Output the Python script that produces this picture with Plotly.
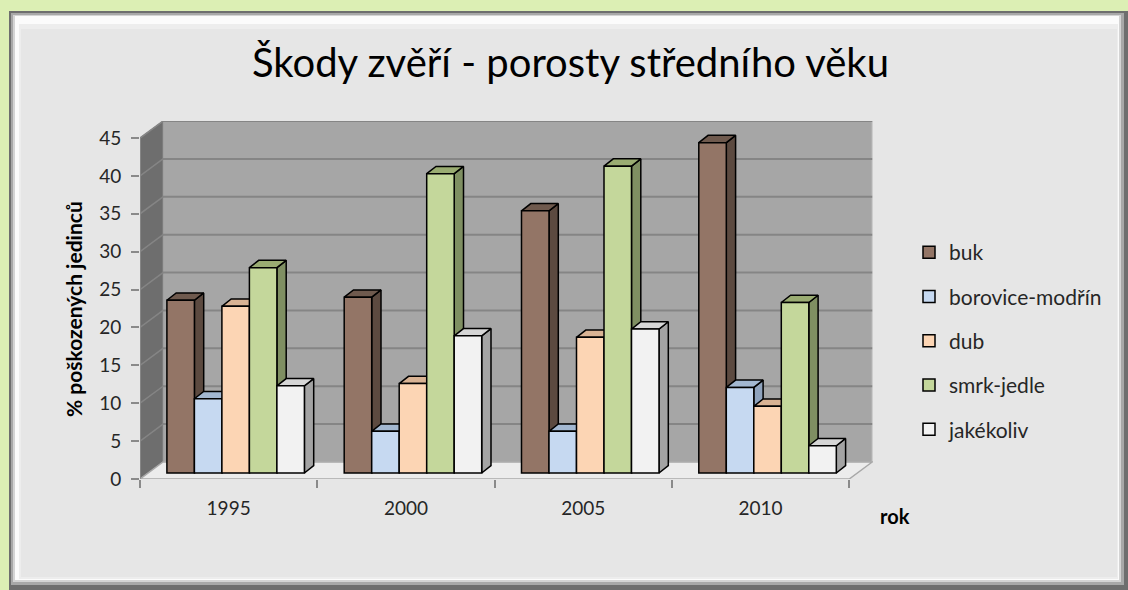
"""Škody zvěří - porosty středního věku: 3D-looking grouped bar chart."""

import plotly.graph_objects as go

years = ["1995", "2000", "2005", "2010"]
species = ["buk", "borovice-modřín", "dub", "smrk-jedle", "jakékoliv"]
buk = [22.8, 23.2, 34.6, 43.6]
borovice = [9.8, 5.5, 5.5, 11.3]
dub = [22.0, 11.8, 17.9, 8.8]
smrk = [27.1, 39.5, 40.5, 22.5]
jakekoliv = [11.5, 18.1, 19.0, 3.6]
series = [buk, borovice, dub, smrk, jakekoliv]
y_ticks = [0, 5, 10, 15, 20, 25, 30, 35, 40, 45]

# front / side / top colours per series
front = ["#937566", "#c6d9f1", "#fcd5b4", "#c4d79b", "#f2f2f2"]
side = ["#5c4a40", "#8fa3bd", "#bfa086", "#7f8f62", "#a3a3a3"]
top = ["#6f5a4e", "#a3b8d1", "#d9b394", "#9aac72", "#d6d6d6"]

W, H = 1128, 590
L, R, T, B = 140, 873, 121, 479
px_x = 177.3
px_y = 7.577
y_max = 45

WALL_DX, WALL_DY = 23 / px_x, 17 / px_y
SHIFT_X, BASE = 7 / px_x, 6 / px_y
BAR_W = 27.5 / px_x
DDX, DDY = 9.3 / px_x, 7.3 / px_y

x_lo = -0.5
x_hi = x_lo + (R - L) / px_x
y_hi = (B - T) / px_y


def fx(p):
    return (p - L) / (R - L)


def fy(p):
    return (B - p) / (B - T)


fig = go.Figure()

for k, vals in enumerate(series):
    centers = [i + SHIFT_X + (k - 2) * BAR_W for i in range(len(years))]
    sx, sy, tx, ty = [], [], [], []
    for c, v in zip(centers, vals):
        lft, rgt = c - BAR_W / 2, c + BAR_W / 2
        sx += [rgt, rgt + DDX, rgt + DDX, rgt, rgt, None]
        sy += [BASE, BASE + DDY, BASE + v + DDY, BASE + v, BASE, None]
        tx += [lft, rgt, rgt + DDX, lft + DDX, lft, None]
        ty += [BASE + v, BASE + v, BASE + v + DDY, BASE + v + DDY, BASE + v, None]
    for xs, ys, col in ((sx, sy, side[k]), (tx, ty, top[k])):
        fig.add_trace(go.Scatter(
            x=xs, y=ys, mode="lines", fill="toself", fillcolor=col,
            line=dict(color="black", width=1.5), showlegend=False,
            hoverinfo="skip", zorder=2 * k,
        ))
    fig.add_trace(go.Bar(
        x=centers, y=vals, base=BASE, width=BAR_W, name=species[k],
        marker=dict(color=front[k], line=dict(color="black", width=1.5)),
        legendgroup=species[k], zorder=2 * k + 1,
    ))

shapes = []
# outer frame / bevelled panel
for x0, y0, x1, y1, col in [
    (9, 11, 1128, 590, "#6e6e6e"),
    (11, 13, 1124, 585, "#a8a8a8"),
    (13, 15, 1121, 582, "#d4d4d4"),
    (15, 16, 1119, 580, "#fbfbfb"),
    (19, 24, 1118, 579, "#ededed"),
    (21, 29, 1117, 577, "#e6e6e6"),
]:
    shapes.append(dict(type="rect", xref="paper", yref="paper", layer="below",
                       x0=fx(x0), x1=fx(x1), y0=fy(y0), y1=fy(y1),
                       fillcolor=col, line_width=0))

# back wall, side wall, floor
bx0, bx1 = x_lo + WALL_DX, 3.5 + WALL_DX
shapes.append(dict(type="rect", xref="x", yref="y", layer="below",
                   x0=bx0, x1=bx1, y0=WALL_DY, y1=y_max + WALL_DY,
                   fillcolor="#a6a6a6", line=dict(color="#c8c8c8", width=1)))
shapes.append(dict(type="path", xref="x", yref="y", layer="below",
                   path=f"M{x_lo},0 L{bx0},{WALL_DY} L{bx0},{y_max + WALL_DY} L{x_lo},{y_max} Z",
                   fillcolor="#6e6e6e", line=dict(color="#8a8a8a", width=1)))
shapes.append(dict(type="path", xref="x", yref="y", layer="below",
                   path=f"M{x_lo},0 L3.5,0 L{bx1},{WALL_DY} L{bx0},{WALL_DY} Z",
                   fillcolor="#ececec", line=dict(color="#a8a8a8", width=1.5)))
for g in y_ticks[1:]:
    shapes.append(dict(type="line", xref="x", yref="y", layer="below",
                       x0=bx0, x1=bx1, y0=g + WALL_DY, y1=g + WALL_DY,
                       line=dict(color="#858585", width=2)))
    shapes.append(dict(type="line", xref="x", yref="y", layer="below",
                       x0=x_lo, x1=bx0, y0=g, y1=g + WALL_DY,
                       line=dict(color="#858585", width=1.5)))
# front vertical axis line
shapes.append(dict(type="line", xref="x", yref="y", layer="below",
                   x0=x_lo, x1=x_lo, y0=0, y1=y_max,
                   line=dict(color="#8a8a8a", width=1.5)))

fig.update_layout(
    width=W, height=H,
    margin=dict(l=L, r=W - R, t=T, b=H - B),
    paper_bgcolor="#dcefb4",
    plot_bgcolor="rgba(0,0,0,0)",
    barmode="overlay",
    font=dict(family="Lato, 'Open Sans', sans-serif", size=19, color="#262626"),
    shapes=shapes,
    xaxis=dict(
        range=[x_lo, x_hi], tickvals=list(range(len(years))), ticktext=years,
        ticks="", showgrid=False, zeroline=False, showline=False,
        ticklabelstandoff=16,
        minor=dict(tickvals=[x_lo + i for i in range(len(years) + 1)],
                   ticks="outside", ticklen=8, tickcolor="#8a8a8a", tickwidth=1.5),
    ),
    yaxis=dict(
        range=[0, y_hi], tickvals=y_ticks, ticks="outside", ticklen=8,
        tickcolor="#8a8a8a", tickwidth=1.5, showgrid=False, zeroline=False,
        showline=False, ticklabelstandoff=6,
    ),
    legend=dict(
        x=fx(909), y=fy(232), xanchor="left", yanchor="top",
        bgcolor="rgba(0,0,0,0)", tracegroupgap=14, font=dict(size=21),
        itemwidth=30,
    ),
    annotations=[
        dict(text="Škody zvěří - porosty středního věku", xref="paper", yref="paper",
             x=fx(570), y=fy(62), xanchor="center", yanchor="middle",
             showarrow=False, font=dict(size=40, color="#000000")),
        dict(text="<b>% poškozených jedinců</b>", xref="paper", yref="paper",
             x=fx(73), y=fy(309), xanchor="center", yanchor="middle",
             textangle=-90, showarrow=False, font=dict(size=21, color="#000000")),
        dict(text="<b>rok</b>", xref="paper", yref="paper",
             x=fx(895), y=fy(516), xanchor="center", yanchor="middle",
             showarrow=False, font=dict(size=20, color="#000000")),
    ],
)

fig.write_html("out.html", config={"displayModeBar": False},
               post_script="document.body.style.margin='0';")
